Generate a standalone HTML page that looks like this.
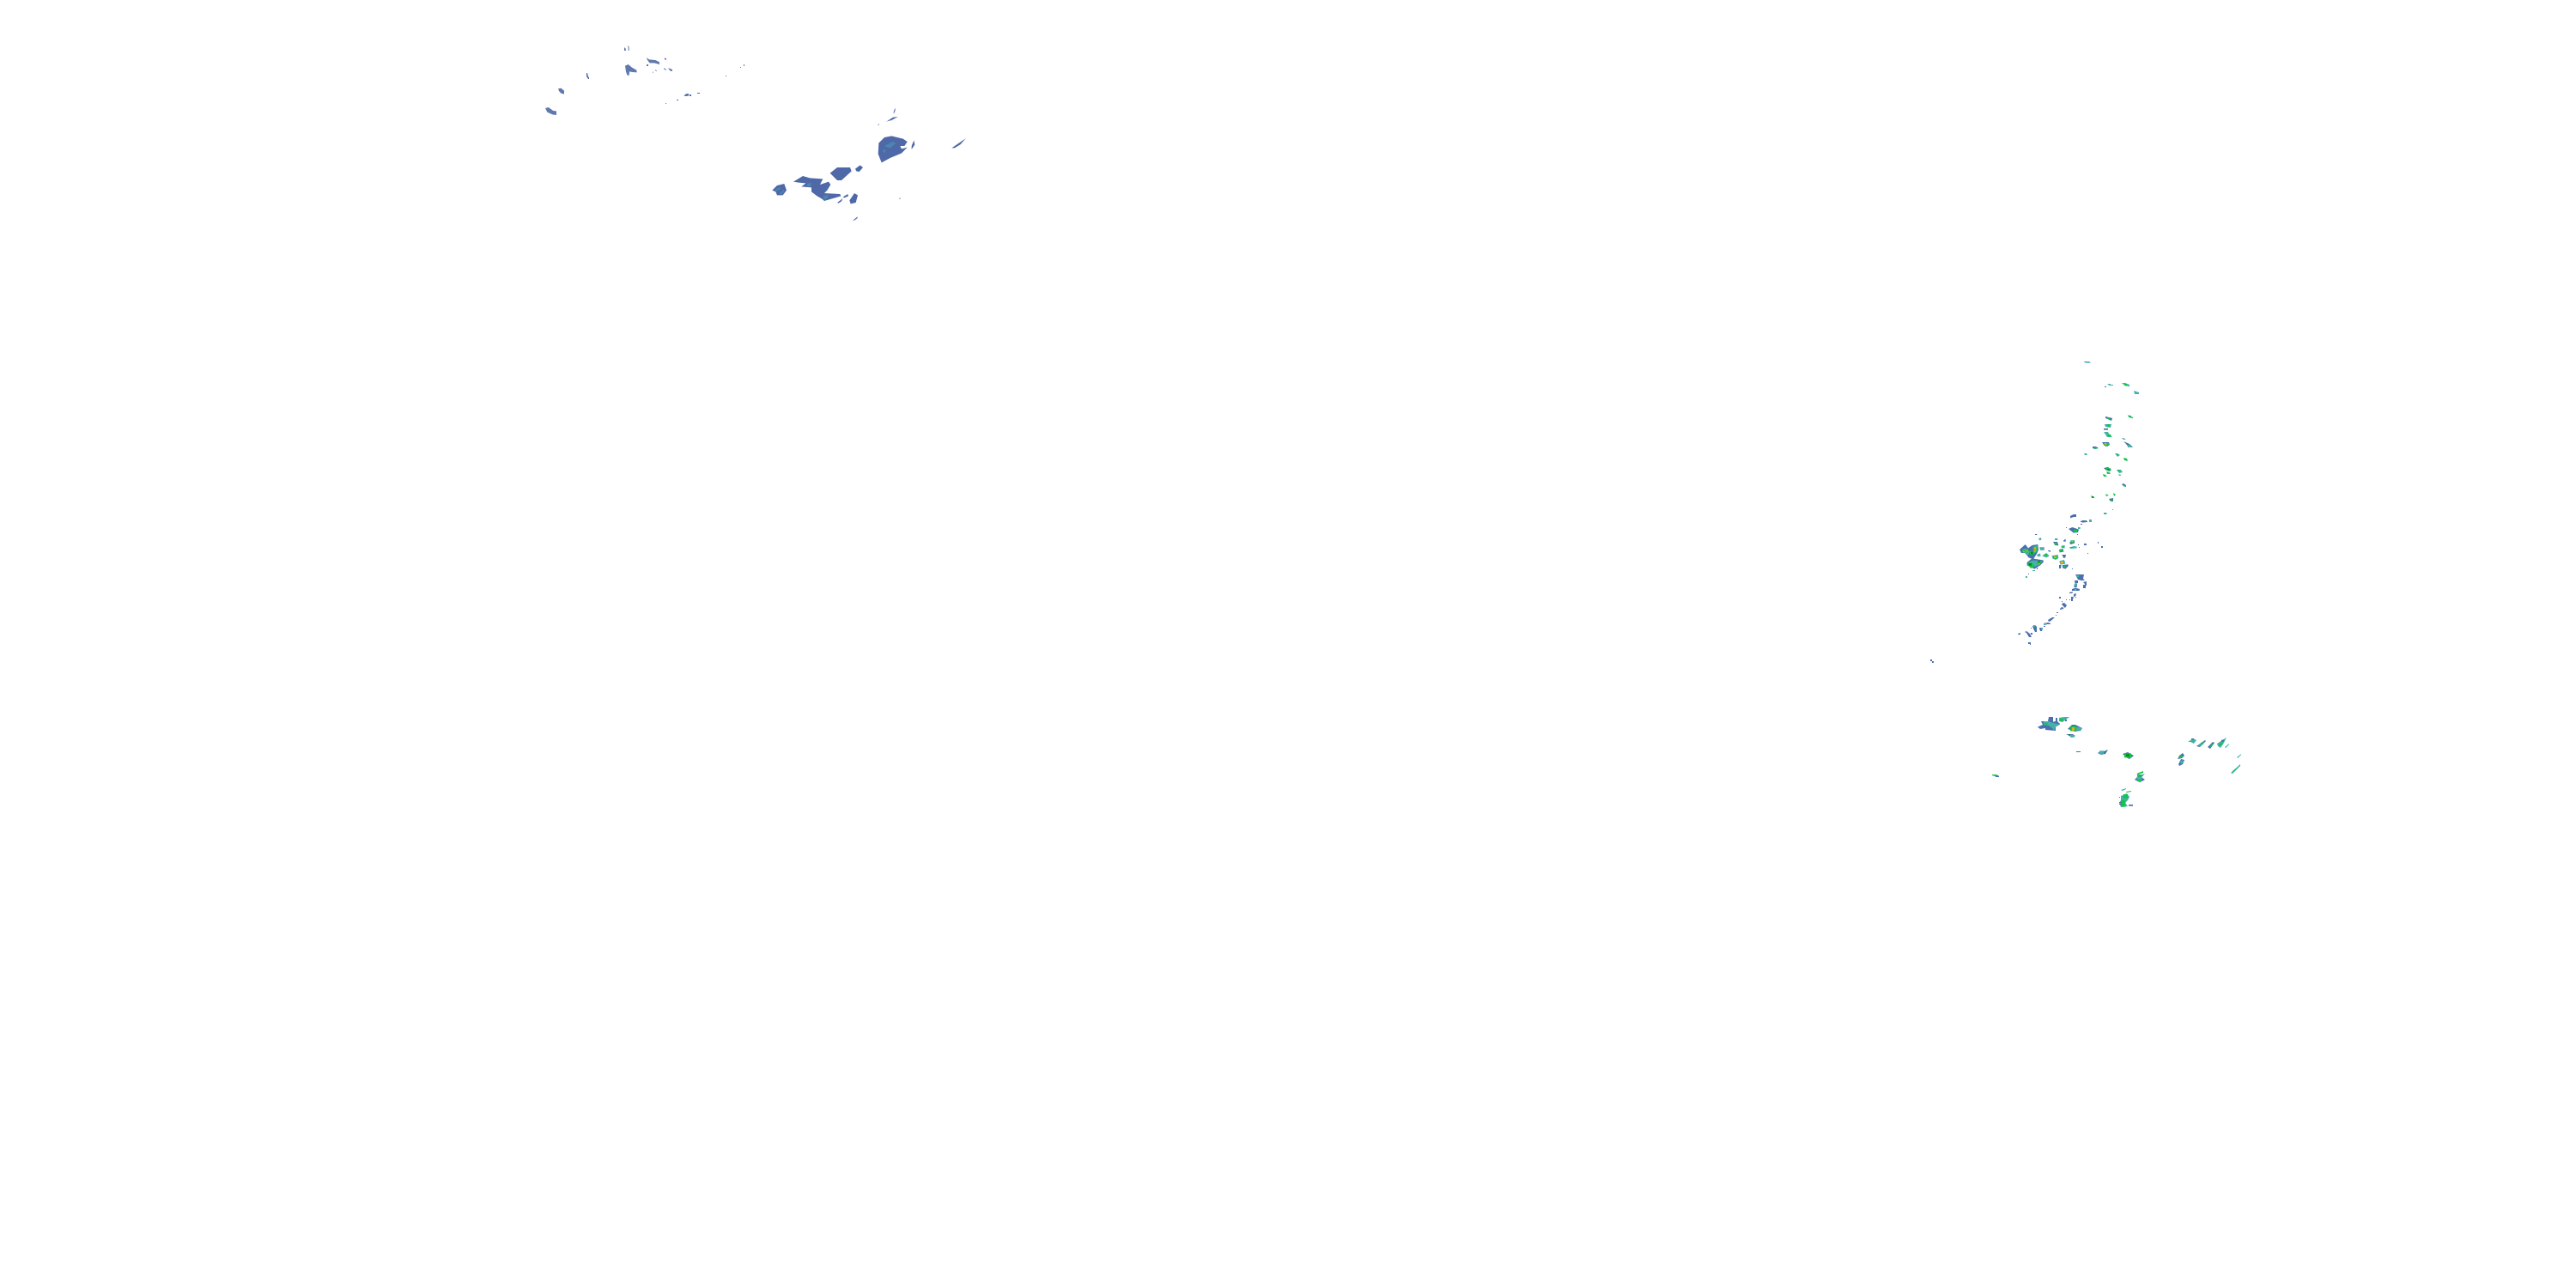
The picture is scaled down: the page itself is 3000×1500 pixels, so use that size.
<!DOCTYPE html>
<html><head><meta charset="utf-8"><style>
html,body{margin:0;padding:0;background:#fff}
svg{display:block}
.n{fill:#6078ad}.m{fill:#4f68a8}.c{fill:#4a86b0}
.b{fill:#4a70ae}.t{fill:#45b2a8}.g{fill:#14c44c}.d{fill:#068a14}.y{fill:#e8aa18}
</style></head><body>
<svg width="3000" height="1500" viewBox="0 0 3000 1500" xmlns="http://www.w3.org/2000/svg">
<rect width="3000" height="1500" fill="#fff"/>
<g transform="translate(600 30) scale(.33333)">
<polygon class="n" points="381,75 386,80 387,87 381,87"/>
<polygon class="n" points="393,69 398,74 398,87 395,87 395,76"/>
<polygon class="n" points="384,140 395,135 408,146 424,155 425,163 410,162 399,160 398,174 391,172 387,160"/>
<polygon class="n" points="459,111 468,118 490,120 504,127 504,135 485,130 470,130 462,120"/>
<polygon class="n" points="522,111 528,116 527,120 522,118"/>
<rect class="n" x="459" y="135" width="6" height="6"/>
<rect class="n" x="480" y="161" width="3" height="3"/>
<polygon class="n" points="489,153 495,157 494,159 489,156"/>
<polygon class="n" points="519,147 528,153 526,156 519,150"/>
<polygon class="n" points="534,147 549,153 549,159 541,157"/>
<polygon class="m" points="249,165 252,165 255,178 258,180 258,186 255,186 249,177"/>
<polygon class="n" points="150,220 160,218 171,227 171,239 160,236 153,228"/>
<polygon class="n" points="105,288 116,285 133,297 144,298 144,312 130,310 112,302"/>
<rect class="n" x="786" y="144" width="3" height="3"/>
<rect class="n" x="798" y="135" width="3" height="6"/>
<rect class="m" x="735" y="174" width="3" height="3"/>
<polygon class="m" points="591,243 597,238 606,237 606,245 591,246"/>
<rect class="m" x="609" y="240" width="6" height="6"/>
<rect class="m" x="636" y="234" width="9" height="3"/>
<rect class="m" x="564" y="258" width="6" height="3"/>
<rect class="n" x="525" y="270" width="3" height="3"/>
</g>
<g transform="translate(880 110) scale(.33333)">
<polygon class="m" points="58,335 75,318 100,312 108,335 95,352 75,352 70,340"/>
<polygon class="c" points="68,332 85,324 88,330 72,338"/><polygon class="c" points="82,347 98,332 100,338 90,350"/>
<polygon class="m" points="132,305 165,285 190,292 235,295 225,315 255,305 262,315 250,335 240,345 295,348 298,355 240,372 232,365 215,355 195,340 195,325 160,322 175,310 150,308"/>
<polygon class="c" points="180,312 195,308 192,322 180,322"/><polygon class="c" points="235,355 255,350 250,365 238,368"/>
<polygon class="m" points="260,275 285,255 330,255 335,268 300,300 285,300"/>
<polygon class="m" points="348,260 365,247 375,255 362,270 352,268"/>
<polygon class="m" points="430,170 450,150 475,145 515,155 530,165 520,180 505,180 510,190 530,185 510,205 470,222 440,238 428,208"/>
<polygon class="c" points="450,180 478,165 490,170 470,188"/><polygon class="c" points="445,195 455,190 452,203 445,203"/>
<polygon class="m" points="545,180 553,160 556,175 545,192"/>
<polygon class="m" points="685,187 735,153 715,175 695,187"/>
<polygon class="m" points="457,95 480,80 497,78 475,90"/>
<polygon class="m" points="481,65 487,47 488,55 484,65"/>
<polygon class="m" points="426,107 431,102 431,107"/>
<polygon class="m" points="285,378 305,363 300,373 290,380"/>
<polygon class="m" points="305,358 322,348 324,355 310,361"/>
<polygon class="m" points="328,370 345,345 357,352 350,378 332,382"/>
<polygon class="m" points="340,440 356,427 356,432 345,440"/>
<polygon class="m" points="500,365 506,360 505,365"/>
</g>
<g transform="translate(2340 590) scale(.33333)">
<polygon class="b" points="36,150 56,132 66,145 80,135 100,132 102,152 96,165 85,182 118,187 120,193 108,205 88,218 62,205 62,195 78,182 68,178 55,162 42,162"/>
<polygon class="t" points="44,150 60,146 72,158 66,170 50,160"/><polygon class="t" points="82,140 98,136 98,156 84,166"/><polygon class="t" points="68,194 82,188 116,190 104,204 82,212"/>
<polygon class="g" points="44,152 54,150 54,160 46,160"/><polygon class="g" points="56,150 68,152 66,162 58,160"/><polygon class="g" points="72,155 84,158 82,170 72,168"/><polygon class="g" points="84,140 97,140 95,160 84,160"/><polygon class="g" points="66,196 80,196 88,208 76,216 66,206"/><polygon class="g" points="98,190 116,190 108,202 98,203"/>
<rect class="d" x="68" y="198" width="10" height="8"/><rect class="d" x="75" y="158" width="8" height="8"/><rect class="d" x="100" y="190" width="8" height="6"/>
<rect class="y" x="87" y="142" width="7" height="8"/><rect class="y" x="86" y="152" width="7" height="6"/><rect class="y" x="48" y="155" width="5" height="5"/><rect class="y" x="60" y="152" width="5" height="6"/><rect class="y" x="102" y="197" width="5" height="5"/>
<polygon class="b" points="106,142 122,142 122,152 108,152"/><rect class="t" x="108" y="142" width="12" height="8"/>
<polygon class="t" points="114,172 130,162 140,172 130,178"/><rect class="g" x="123" y="165" width="8" height="8"/>
<polygon class="t" points="96,168 108,163 110,173 100,175"/>
<rect class="b" x="90" y="96" width="7" height="3"/><polygon class="t" points="102,112 110,108 113,115 106,118"/>
<polygon class="b" points="135,153 144,153 144,159 135,155"/>
<rect class="b" x="66" y="234" width="3" height="3"/><rect class="t" x="57" y="243" width="6" height="6"/>
<rect class="t" x="81" y="222" width="9" height="3"/><rect class="b" x="96" y="213" width="3" height="6"/>
<polygon class="t" points="148,172 170,168 172,180 162,186 152,182"/><rect class="g" x="153" y="172" width="14" height="10"/><rect class="y" x="156" y="174" width="8" height="6"/>
<polygon class="b" points="153,123 168,123 172,136 160,135"/><rect class="g" x="158" y="126" width="8" height="8"/><rect class="t" x="159" y="111" width="10" height="6"/>
<polygon class="t" points="182,137 194,135 194,145 182,144"/><rect class="g" x="184" y="138" width="7" height="5"/>
<polygon class="b" points="174,150 188,147 190,158 176,160"/><rect class="g" x="177" y="150" width="10" height="7"/>
<polygon class="b" points="189,119 196,113 198,122 190,122"/>
<polygon class="t" points="210,142 226,138 236,140 236,145 215,147"/><rect class="g" x="212" y="141" width="9" height="4"/>
<polygon class="b" points="210,125 228,117 228,128 214,132"/><rect class="g" x="214" y="118" width="12" height="8"/><rect class="y" x="218" y="120" width="5" height="4"/>
<polygon class="b" points="184,168 198,168 196,178 190,180"/>
<polygon class="t" points="175,190 192,186 196,200 178,203"/><rect class="y" x="179" y="192" width="10" height="7"/>
<polygon class="b" points="174,204 182,204 180,216 174,216"/>
<polygon class="b" points="186,204 206,202 206,208 196,218 186,214"/><rect class="g" x="190" y="206" width="7" height="7"/>
<rect class="b" x="219" y="216" width="3" height="3"/>
<polygon class="b" points="213,33 225,27 234,28 234,36 225,36 214,40"/><rect class="t" x="224" y="28" width="8" height="7"/>
<polygon class="b" points="250,51 270,48 272,54 255,56"/><rect class="t" x="256" y="48" width="9" height="5"/>
<rect class="t" x="279" y="45" width="9" height="9"/><rect class="b" x="249" y="60" width="6" height="3"/>
<rect class="g" x="330" y="21" width="9" height="6"/><rect class="t" x="360" y="9" width="3" height="3"/>
<rect class="b" x="198" y="72" width="3" height="3"/>
<polygon class="b" points="207,78 220,72 243,80 240,90 225,92"/><rect class="g" x="225" y="81" width="12" height="8"/><rect class="t" x="240" y="72" width="8" height="6"/>
<rect class="b" x="237" y="96" width="3" height="3"/>
<rect class="b" x="261" y="129" width="9" height="6"/><rect class="b" x="309" y="123" width="3" height="6"/><rect class="b" x="321" y="138" width="6" height="6"/><rect class="b" x="273" y="162" width="3" height="3"/><rect class="b" x="240" y="132" width="3" height="3"/><rect class="b" x="243" y="141" width="3" height="3"/>
</g>
<g transform="translate(2340 660) scale(.33333)">
<polygon class="b" points="231,27 261,27 258,42 264,48 252,48 240,45"/><rect class="t" x="234" y="30" width="9" height="6"/>
<polygon class="b" points="228,48 240,48 240,57 230,60"/>
<polygon class="b" points="258,54 270,51 270,66 264,66 264,60"/><rect class="b" x="258" y="63" width="9" height="12"/>
<polygon class="b" points="228,60 237,60 236,72 226,72"/><rect class="t" x="227" y="60" width="8" height="7"/>
<polygon class="b" points="219,78 232,74 246,78 245,84 219,84"/><rect class="t" x="228" y="78" width="6" height="6"/>
<polygon class="b" points="210,90 222,87 220,93 210,93"/><polygon class="b" points="225,96 234,93 232,102 225,105"/>
<polygon class="b" points="216,105 225,105 222,114 222,120 216,120"/>
<rect class="b" x="174" y="105" width="6" height="6"/><rect class="b" x="198" y="114" width="3" height="3"/><rect class="b" x="210" y="114" width="3" height="3"/><rect class="b" x="183" y="120" width="3" height="3"/><rect class="b" x="231" y="105" width="3" height="3"/>
<polygon class="b" points="183,129 192,126 201,135 195,144 186,135"/>
<polygon class="b" points="177,147 183,141 192,144 186,148 177,150"/>
<rect class="b" x="165" y="159" width="6" height="3"/><rect class="b" x="162" y="168" width="3" height="3"/>
<polygon class="b" points="135,186 150,177 159,177 144,190 138,192"/>
<polygon class="b" points="120,198 135,195 144,198 144,201 132,201 122,205"/><rect class="t" x="122" y="198" width="9" height="4"/>
<rect class="b" x="120" y="207" width="6" height="3"/>
<polygon class="b" points="81,207 90,204 96,210 96,228 90,228 84,216"/><rect class="t" x="84" y="204" width="6" height="6"/>
<polygon class="b" points="105,213 117,213 114,225 108,225"/><rect class="t" x="111" y="213" width="6" height="6"/>
<rect class="b" x="75" y="213" width="3" height="3"/>
<polygon class="b" points="54,228 60,225 72,234 78,246 69,246 60,231"/><rect class="b" x="75" y="231" width="6" height="6"/>
<polygon class="b" points="30,234 39,231 39,237 30,237"/><rect class="b" x="66" y="264" width="9" height="6"/><rect class="b" x="72" y="270" width="3" height="3"/>
</g>
<rect class="b" x="2248" y="768" width="2" height="2"/><rect class="b" x="2250" y="770" width="2" height="2"/>
<g transform="translate(2400 410) scale(.33333)">
<polygon class="t" points="81,33 100,33 105,38 88,38"/><rect class="b" x="81" y="33" width="8" height="2"/>
<polygon class="t" points="162,111 174,111 174,114 183,114 183,117 170,117"/><rect class="b" x="153" y="120" width="6" height="3"/>
<polygon class="t" points="213,108 225,108 240,114 240,120 225,118"/><rect class="g" x="222" y="111" width="9" height="6"/>
<polygon class="t" points="255,135 273,141 273,147 258,147"/>
<polygon class="b" points="156,225 180,231 177,240 156,231"/><rect class="g" x="162" y="228" width="10" height="6"/>
<polygon class="t" points="234,219 252,228 252,232 237,228"/><rect class="g" x="238" y="222" width="8" height="6"/>
<polygon class="t" points="153,252 177,252 174,264 156,261"/><rect class="g" x="162" y="252" width="9" height="10"/>
<rect class="b" x="150" y="267" width="15" height="5"/>
<polygon class="t" points="150,279 165,279 168,285 180,297 162,297"/><rect class="g" x="165" y="288" width="10" height="8"/>
<polygon class="b" points="144,315 168,315 171,324 162,330 150,324"/><rect class="g" x="150" y="318" width="18" height="9"/><rect class="y" x="153" y="318" width="7" height="6"/><rect class="t" x="156" y="327" width="9" height="3"/>
<polygon class="b" points="111,330 123,330 132,336 120,339 111,336"/><rect class="g" x="117" y="333" width="9" height="5"/>
<polygon class="t" points="213,300 219,300 228,306 219,306"/>
<polygon class="b" points="219,312 240,321 252,333 237,333 228,321"/><rect class="t" x="234" y="324" width="12" height="9"/>
<polygon class="t" points="81,354 90,354 93,360 84,360"/>
<polygon class="t" points="189,354 198,354 207,360 198,366"/><rect class="g" x="195" y="357" width="6" height="5"/>
<polygon class="g" points="219,369 231,372 234,381 222,378"/>
<polygon class="b" points="150,405 165,402 177,411 171,417 156,411"/><rect class="g" x="159" y="405" width="14" height="9"/><rect class="d" x="163" y="408" width="6" height="5"/>
<polygon class="t" points="195,411 210,411 216,420 204,423"/><rect class="g" x="198" y="411" width="9" height="6"/>
<polygon class="t" points="159,417 171,420 174,426 162,426"/><rect class="g" x="162" y="420" width="6" height="5"/>
<polygon class="g" points="147,426 156,429 162,435 150,435"/>
<polygon class="t" points="201,426 210,429 210,432 204,432"/>
<polygon class="b" points="213,462 219,459 228,465 228,471 219,468"/><rect class="g" x="220" y="465" width="7" height="5"/>
<polygon class="g" points="105,501 117,507 117,510 108,510"/><rect class="d" x="109" y="504" width="6" height="5"/>
<polygon class="g" points="156,495 168,501 159,504"/>
<polygon class="g" points="183,492 192,498 186,504"/>
<polygon class="b" points="168,513 183,510 183,522 174,522"/><rect class="g" x="173" y="516" width="8" height="5"/>
<rect class="t" x="180" y="549" width="3" height="3"/>
<polygon class="t" points="150,561 159,561 162,567 150,567"/>
<polygon class="b" points="33,573 45,567 54,567 54,576 42,576 33,579"/>
<polygon class="b" points="69,591 78,588 93,591 93,594 69,594"/><rect class="t" x="99" y="585" width="9" height="9"/>
</g>
<g transform="translate(2310 820) scale(.33333)">
<polygon class="g" points="30,246 45,246 54,252 54,255 40,252 30,249"/><rect class="b" x="42" y="250" width="12" height="5"/>
<polygon class="b" points="189,80 207,72 201,60 225,60 228,45 243,45 243,62 252,60 252,48 258,48 258,60 268,70 252,80 252,93 216,90 216,84 198,87"/>
<polygon class="t" points="210,60 228,60 243,66 264,70 252,80 246,92 240,84 228,75 210,72"/><rect class="g" x="213" y="66" width="12" height="5"/>
<polygon class="t" points="264,48 280,45 300,45 288,54 276,63 264,60"/><rect class="g" x="267" y="50" width="10" height="10"/><rect class="b" x="285" y="54" width="6" height="6"/>
<polygon class="b" points="294,87 309,72 321,72 345,84 339,93 318,96 303,90"/><rect class="t" x="324" y="81" width="18" height="11"/><rect class="g" x="303" y="77" width="22" height="17"/><rect class="y" x="309" y="81" width="9" height="11"/>
<polygon class="b" points="288,105 312,105 321,111 309,117 300,111"/><rect class="t" x="303" y="108" width="15" height="8"/><rect class="d" x="297" y="105" width="6" height="4"/>
<rect class="b" x="324" y="165" width="15" height="3"/>
<polygon class="b" points="399,171 408,165 420,165 435,159 426,174 411,177"/><rect class="t" x="405" y="163" width="15" height="12"/>
<polygon class="b" points="486,174 504,168 525,180 510,192 498,186"/><rect class="g" x="492" y="172" width="24" height="15"/><rect class="d" x="498" y="175" width="12" height="8"/>
<polygon class="g" points="534,243 558,234 558,240 540,246"/>
<polygon class="b" points="528,264 540,252 564,243 552,255 564,264 546,273 534,267"/><rect class="g" x="537" y="246" width="18" height="7"/><rect class="t" x="535" y="254" width="18" height="10"/><rect class="g" x="539" y="263" width="12" height="7"/>
<polygon class="t" points="480,300 498,294 498,297 486,303"/><polygon class="g" points="498,306 516,303 516,306 500,309"/>
<polygon class="t" points="480,321 500,312 510,324 504,336 495,345 504,357 480,360 474,345 480,336"/><rect class="g" x="489" y="315" width="15" height="14"/><rect class="g" x="480" y="335" width="16" height="24"/>
<rect class="b" x="474" y="324" width="3" height="3"/><rect class="b" x="507" y="351" width="15" height="5"/><rect class="b" x="474" y="342" width="9" height="3"/><rect class="b" x="474" y="348" width="9" height="3"/>
</g>
<g transform="translate(2460 850) scale(.33333)">
<polygon class="t" points="264,42 282,30 294,36 285,48 273,42"/><rect class="b" x="276" y="30" width="9" height="5"/>
<polygon class="b" points="294,57 324,36 327,39 306,60"/><polygon class="t" points="300,54 318,42 318,48 306,57"/><rect class="g" x="309" y="44" width="9" height="7"/>
<polygon class="b" points="333,60 351,42 357,45 342,66"/><polygon class="g" points="339,57 351,48 351,54 342,60"/>
<polygon class="t" points="366,48 384,36 399,27 390,45 378,63 369,57"/><polygon class="g" points="372,51 387,42 384,51 375,57"/><rect class="b" x="381" y="35" width="9" height="6"/>
<polygon class="t" points="393,60 408,48 408,51 396,63"/>
<polygon class="t" points="435,96 450,84 450,87 438,99"/>
<polygon class="t" points="414,150 447,120 447,126 420,153"/><polygon class="g" points="420,144 435,132 432,138 423,147"/>
<polygon class="b" points="228,102 234,90 246,81 252,90 243,99"/><polygon class="g" points="231,96 243,87 246,93 237,100"/>
<polygon class="b" points="231,120 240,102 252,105 246,120 234,126"/><polygon class="t" points="237,111 246,105 249,111 240,120"/>
</g>
</svg>
</body></html>
